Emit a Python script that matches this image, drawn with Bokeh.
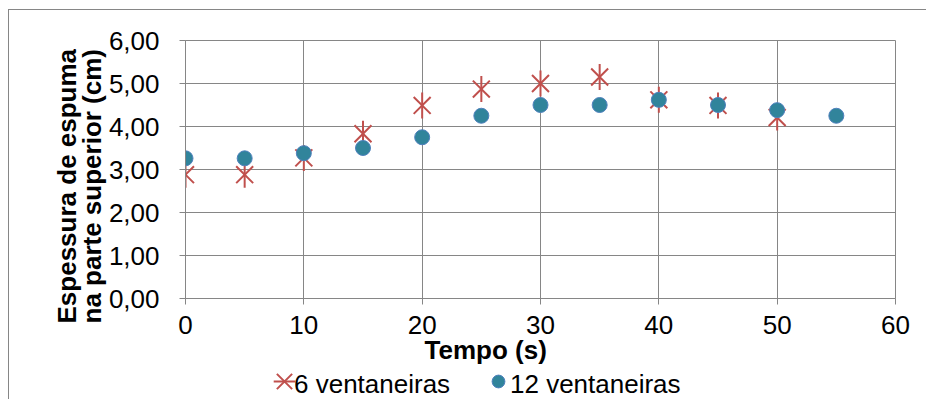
import math
from bokeh.plotting import figure
from bokeh.layouts import column
from bokeh.models import Range1d, Legend, LegendItem, FixedTicker, Title
from bokeh.embed import file_html
from bokeh.resources import INLINE

# Foam thickness on top (cm) against time (s)
tempo = [0, 5, 10, 15, 20, 25, 30, 35, 40, 45, 50, 55]
tempo_6 = [0, 5, 10, 15, 20, 25, 30, 35, 40, 45, 50]
espessura_6 = [2.88, 2.88, 3.27, 3.83, 4.49, 4.87, 5.00, 5.15, 4.62, 4.49, 4.21]
espessura_12 = [3.26, 3.26, 3.38, 3.50, 3.75, 4.25, 4.50, 4.50, 4.62, 4.50, 4.38, 4.25]

y_ticks = [0, 1, 2, 3, 4, 5, 6]
y_tick_labels = ["0,00", "1,00", "2,00", "3,00", "4,00", "5,00", "6,00"]
x_ticks = [0, 10, 20, 30, 40, 50, 60]
series_names = ["6 ventaneiras", "12 ventaneiras"]
x_title = "Tempo (s)"
y_title = "Espessura de espuma\nna parte superior (cm)"

FONT = "Liberation Sans"
FS = "26px"
GRID = "#868686"
RED = "#C0504D"
TEAL = "#31849B"
BLUE_EDGE = "#4F81BD"

STAR_X = dict(marker="x", size=24, line_color=RED, line_width=2)
STAR_V = dict(marker="dash", size=26, angle=math.pi / 2, line_color=RED, line_width=2)
DOT = dict(marker="circle", size=15, fill_color=TEAL, line_color=BLUE_EDGE, line_width=1)

p = figure(
    width=918, height=360,
    x_range=Range1d(0, 60), y_range=Range1d(0, 6),
    output_backend="svg", toolbar_location=None,
    min_border_left=176, min_border_right=32,
    min_border_top=30, min_border_bottom=72,
    margin=(9, 0, 0, 8),
)
p.styles = {"border-left": f"1px solid {GRID}", "border-top": f"1px solid {GRID}"}
p.background_fill_color = "white"
p.border_fill_color = "white"
p.outline_line_color = GRID
p.outline_line_width = 1

for ax in (p.xaxis[0], p.yaxis[0]):
    ax.axis_line_color = GRID
    ax.major_tick_line_color = GRID
    ax.major_tick_out = 6
    ax.major_tick_in = 0
    ax.minor_tick_line_color = None
    ax.major_label_text_font = FONT
    ax.major_label_text_font_size = FS
    ax.major_label_text_color = "black"

p.xaxis.ticker = FixedTicker(ticks=x_ticks)
p.yaxis.ticker = FixedTicker(ticks=y_ticks)
p.yaxis.major_label_overrides = {t: s for t, s in zip(y_ticks, y_tick_labels)}
p.xaxis.major_label_standoff = 11
p.yaxis.major_label_standoff = 20

title_style = dict(text_font=FONT, text_font_size=FS, text_font_style="bold",
                   text_color="black")
# axis titles are set off-centre from the frame, as panels of their own
p.add_layout(Title(text=y_title, align="left", offset=-25, standoff=-3,
                   text_line_height=0.85, **title_style), "left")
p.add_layout(Title(text=x_title, align="left", offset=239, standoff=-8,
                   **title_style), "below")

p.xgrid.ticker = FixedTicker(ticks=x_ticks)
p.ygrid.ticker = FixedTicker(ticks=y_ticks)
p.xgrid.grid_line_color = GRID
p.ygrid.grid_line_color = GRID

# six-armed star: an x plus a vertical stroke
p.scatter(tempo_6, espessura_6, **STAR_X)
p.scatter(tempo_6, espessura_6, **STAR_V)
p.scatter(tempo, espessura_12, **DOT)

# legend strip under the chart (its own points lie outside the visible range)
lg = figure(
    width=918, height=30,
    x_range=Range1d(-200, -100), y_range=Range1d(0, 1),
    output_backend="svg", toolbar_location=None,
    min_border=0, margin=(0, 0, 0, 8),
)
lg.styles = {"border-left": f"1px solid {GRID}"}
lg.axis.visible = False
lg.grid.visible = False
lg.outline_line_color = None
lg.background_fill_color = "white"
lg.border_fill_color = "white"
k6x = lg.scatter(tempo_6, espessura_6, **STAR_X)
k6v = lg.scatter(tempo_6, espessura_6, **STAR_V)
k12 = lg.scatter(tempo, espessura_12, **DOT)
# transparent key used under the captions
blank = lg.scatter(tempo, espessura_12, marker="circle", size=1,
                   fill_alpha=0, line_alpha=0)

common = dict(orientation="horizontal", padding=0, margin=0,
              border_line_alpha=0, background_fill_alpha=0,
              label_text_font=FONT, label_text_font_size=FS,
              label_text_color="black")


def key(renderers, box, loc):
    # marker only; its size follows the glyph box
    return Legend(items=[LegendItem(label=" ", renderers=renderers)],
                  location=loc, glyph_width=box, glyph_height=box,
                  label_standoff=0, label_text_alpha=0, **common)


def caption(text, loc):
    # text only
    return Legend(items=[LegendItem(label=text, renderers=[blank])],
                  location=loc, glyph_width=2, glyph_height=2,
                  label_standoff=0, **common)


lg.add_layout(key([k6x, k6v], 54, (72, -9)), "center")
lg.add_layout(key([k12], 32, (297, 2)), "center")
lg.add_layout(caption(series_names[0], (107, -1)), "center")
lg.add_layout(caption(series_names[1], (323, -1)), "center")

open("out.html", "w").write(file_html(column(p, lg, spacing=0), INLINE))
